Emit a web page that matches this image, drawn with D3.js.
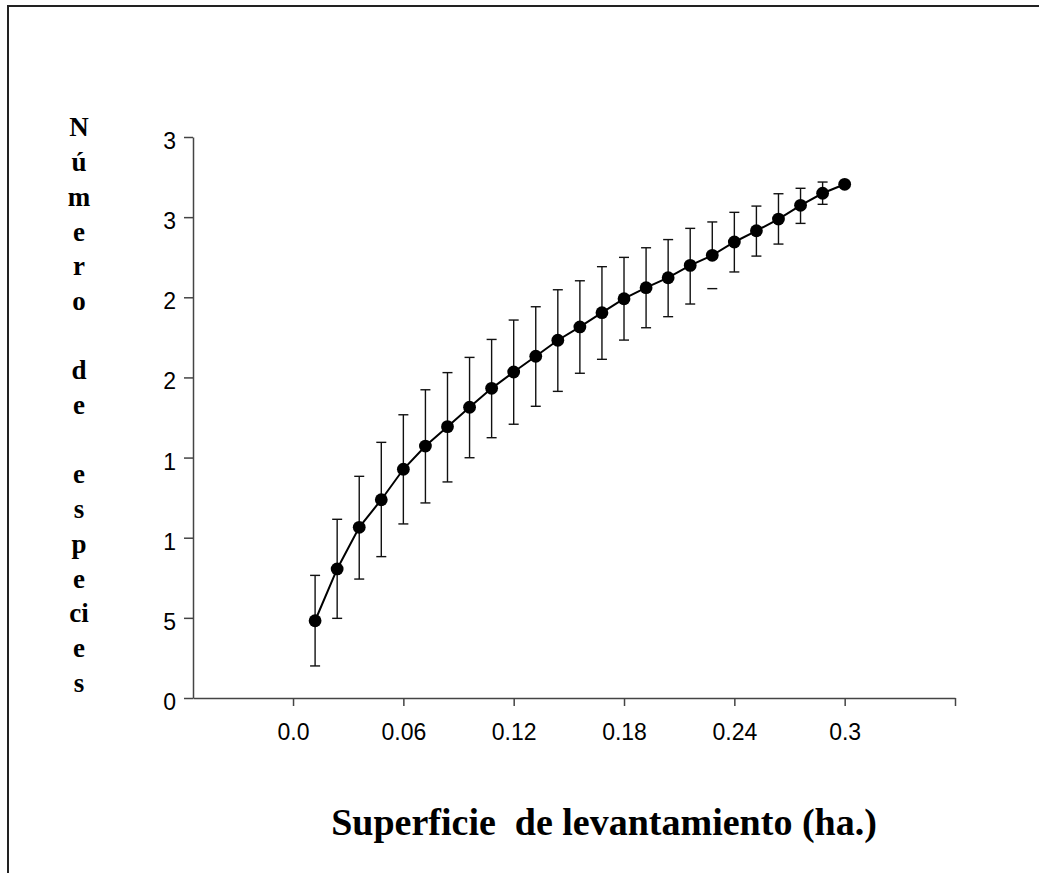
<!DOCTYPE html>
<html>
<head>
<meta charset="utf-8">
<script src="https://cdn.jsdelivr.net/npm/d3@7"></script>
<style>
  body { margin: 0; background: #fff; }
  svg { display: block; }
</style>
</head>
<body>
<div id="chart"></div>
<script>
// superficie (ha.) and mean number of species, with error bar limits
var superficie = [0.012, 0.024, 0.036, 0.048, 0.060, 0.072, 0.084, 0.096, 0.108, 0.120,
                  0.132, 0.144, 0.156, 0.168, 0.180, 0.192, 0.204, 0.216, 0.228, 0.240,
                  0.252, 0.264, 0.276, 0.288, 0.300];
var especies = [4.82, 8.05, 10.65, 12.37, 14.27, 15.72, 16.93, 18.14, 19.32, 20.34,
                21.32, 22.32, 23.15, 24.04, 24.91, 25.60, 26.22, 26.99, 27.62, 28.45,
                29.15, 29.88, 30.74, 31.49, 32.05];
var errAlto = [7.65, 11.15, 13.83, 15.95, 17.67, 19.23, 20.30, 21.25, 22.37, 23.58,
               24.41, 25.47, 26.03, 26.91, 27.49, 28.09, 28.60, 29.30, 29.70, 30.30,
               30.69, 31.46, 31.80, 32.19, null];
var errBajo = [2.00, 4.97, 7.42, 8.82, 10.86, 12.17, 13.48, 14.99, 16.24, 17.08,
               18.20, 19.13, 20.26, 21.13, 22.33, 23.10, 23.79, 24.58, 25.54, 26.58,
               27.57, 28.32, 29.61, 30.80, null];
// the lower stem of this bar is not drawn in the original, only its cap
var sinTallo = [18];

var xTicks = [0, 0.06, 0.12, 0.18, 0.24, 0.30, 0.36];
var xTickLabels = ["0.0", "0.06", "0.12", "0.18", "0.24", "0.3", ""];
var yTicks = [0, 5, 10, 15, 20, 25, 30, 35];
var yTickLabels = ["0", "5", "1", "1", "2", "2", "3", "3"];
var yTitle = ["N", "ú", "m", "e", "r", "o", "", "d", "e", "", "e", "s", "p", "e", "ci", "e", "s"];
var xTitle = "Superficie  de levantamiento (ha.)";

var width = 1039, height = 873;

var svg = d3.select("#chart").append("svg")
    .attr("width", width)
    .attr("height", height);

// outer frame (top and left edges visible)
svg.append("path")
    .attr("d", "M8," + height + "V6H" + width)
    .attr("fill", "none")
    .attr("stroke", "#222")
    .attr("stroke-width", 2);

var x = d3.scaleLinear()
    .domain([-0.0544, 0.36])
    .range([193, 955]);

var y = d3.scaleLinear()
    .domain([0, 35])
    .range([698, 137]);

var xAxis = d3.axisBottom(x)
    .tickValues(xTicks)
    .tickFormat(function(d, i) { return xTickLabels[i]; })
    .tickSize(8)
    .tickSizeOuter(0)
    .tickPadding(18);

var yAxis = d3.axisLeft(y)
    .tickValues(yTicks)
    .tickFormat(function(d, i) { return yTickLabels[i]; })
    .tickSize(9)
    .tickSizeOuter(0)
    .tickPadding(8);

var gx = svg.append("g")
    .attr("class", "x axis")
    .attr("transform", "translate(0," + y(0) + ")")
    .call(xAxis);

var gy = svg.append("g")
    .attr("class", "y axis")
    .attr("transform", "translate(" + x.range()[0] + ",0)")
    .call(yAxis);

[gx, gy].forEach(function(g) {
    g.selectAll("path, line")
        .attr("stroke", "#444")
        .attr("stroke-width", 1.5);
    g.selectAll("text")
        .attr("fill", "#000")
        .style("font-family", "'Liberation Sans', Arial, sans-serif")
        .style("font-size", "23px");
});
gy.selectAll("text").attr("dy", "0.5em");

// y title, one letter per line
svg.append("text")
    .attr("x", 79)
    .attr("y", 127)
    .attr("text-anchor", "middle")
    .style("font-family", "'Liberation Serif', 'Times New Roman', serif")
    .style("font-weight", "bold")
    .style("font-size", "27px")
    .selectAll("tspan")
    .data(yTitle)
    .enter()
    .append("tspan")
    .attr("x", 79)
    .attr("y", function(d, i) { return 127 + i * 34.7; })
    .attr("dy", "0.35em")
    .text(function(d) { return d; });

svg.append("text")
    .attr("x", 604)
    .attr("y", 835)
    .attr("text-anchor", "middle")
    .style("font-family", "'Liberation Serif', 'Times New Roman', serif")
    .style("font-weight", "bold")
    .style("font-size", "38px")
    .style("white-space", "pre")
    .attr("xml:space", "preserve")
    .text(xTitle);

// error bars
var bars = svg.append("g").attr("class", "errorbars")
    .attr("stroke", "#111")
    .attr("stroke-width", 1.4);

superficie.forEach(function(s, i) {
    if (errAlto[i] == null) return;
    var cx = x(s);
    bars.append("line")
        .attr("x1", cx).attr("x2", cx)
        .attr("y1", y(errAlto[i]))
        .attr("y2", sinTallo.indexOf(i) >= 0 ? y(especies[i]) : y(errBajo[i]));
    [errAlto[i], errBajo[i]].forEach(function(v) {
        bars.append("line")
            .attr("x1", cx - 5).attr("x2", cx + 5)
            .attr("y1", y(v)).attr("y2", y(v));
    });
});

var line = d3.line()
    .x(function(d, i) { return x(superficie[i]); })
    .y(function(d) { return y(d); });

svg.append("path")
    .datum(especies)
    .attr("d", line)
    .attr("fill", "none")
    .attr("stroke", "#000")
    .attr("stroke-width", 2);

svg.selectAll("circle.punto")
    .data(especies)
    .enter()
    .append("circle")
    .attr("class", "punto")
    .attr("cx", function(d, i) { return x(superficie[i]); })
    .attr("cy", function(d) { return y(d); })
    .attr("r", 6.4)
    .attr("fill", "#000");
</script>
</body>
</html>
